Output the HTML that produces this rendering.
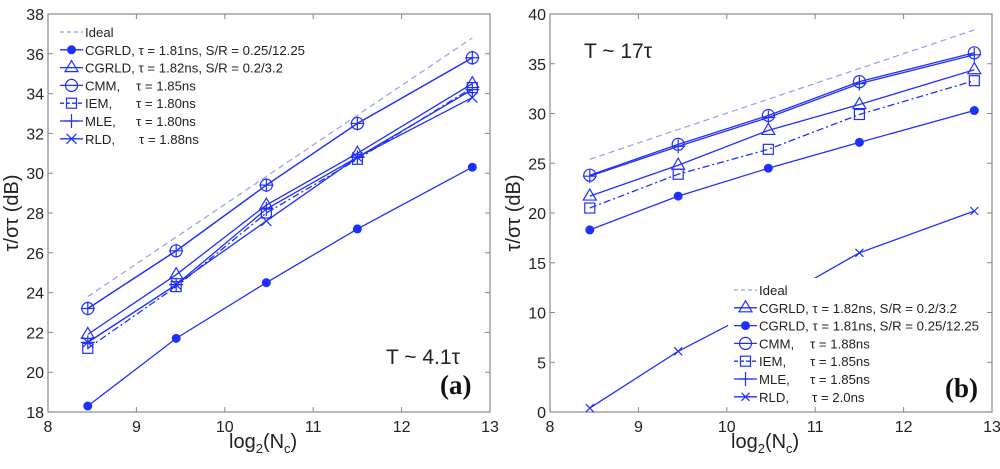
<!DOCTYPE html>
<html><head><meta charset="utf-8"><style>
body{margin:0;background:#fff;width:1000px;height:464px;overflow:hidden}
svg{font-family:"Liberation Sans",sans-serif}
</style></head><body>
<svg id="s" width="1000" height="464"></svg>
<script>
const xVals=[8.45,9.45,10.47,11.5,12.8];
const xTicks=[8,9,10,11,12,13];
const aIdeal=[23.8,36.8];
const aCgrldFilled=[18.3,21.7,24.5,27.2,30.3];
const aCgrldTri=[21.9,24.9,28.4,31.0,34.5];
const aCmm=[23.2,26.1,29.4,32.5,35.8];
const aIem=[21.2,24.3,28.0,30.7,34.3];
const aMle=[21.5,24.4,28.2,30.8,34.2];
const aRld=[21.5,24.4,27.6,30.8,33.8];
const aTicks=[18,20,22,24,26,28,30,32,34,36,38];
const bIdeal=[25.4,38.4];
const bCgrldTri=[21.7,24.8,28.3,30.9,34.4];
const bCgrldFilled=[18.3,21.7,24.5,27.1,30.3];
const bCmm=[23.8,26.9,29.8,33.2,36.1];
const bIem=[20.5,23.9,26.4,29.9,33.3];
const bMle=[23.7,26.7,29.6,33.0,35.9];
const bRld=[0.4,6.1,10.8,16.0,20.2];
const bTicks=[0,5,10,15,20,25,30,35,40];
const NS="http://www.w3.org/2000/svg";
const svg=document.getElementById('s');
const C="#1f2fff";
function el(t,a,p){const e=document.createElementNS(NS,t);for(const k in a)e.setAttribute(k,a[k]);(p||svg).appendChild(e);return e;}
function txt(x,y,s,a,p){const e=el('text',Object.assign({x:x,y:y,'font-size':14,fill:'#222'},a||{}),p);e.textContent=s;return e;}
function marker(g,type,x,y){
 if(type==='dot')el('circle',{cx:x,cy:y,r:4.5,fill:C},g);
 else if(type==='tri')el('polygon',{points:`${x},${y-7} ${x-6.5},${y+4} ${x+6.5},${y+4}`,fill:'none',stroke:C,'stroke-width':1.2},g);
 else if(type==='circ')el('circle',{cx:x,cy:y,r:6,fill:'none',stroke:C,'stroke-width':1.2},g);
 else if(type==='sq')el('rect',{x:x-5,y:y-5,width:10,height:10,fill:'none',stroke:C,'stroke-width':1.2},g);
 else if(type==='plus')el('path',{d:`M${x-7},${y}H${x+7}M${x},${y-7}V${y+7}`,stroke:C,'stroke-width':1.2},g);
 else if(type==='x')el('path',{d:`M${x-5},${y-5}L${x+5},${y+5}M${x-5},${y+5}L${x+5},${y-5}`,stroke:C,'stroke-width':1.2},g);
 else if(type==='xs')el('path',{d:`M${x-4},${y-4}L${x+4},${y+4}M${x-4},${y+4}L${x+4},${y-4}`,stroke:C,'stroke-width':1.2},g);
}
function panel(id,L,R,T,B,ymin,ymax,ticks,series,idealVals,legend,legX,legY,note,noteXY,lab,labXY){
 const g=el('g',{});  
 const sx=v=>L+(v-8)/5*(R-L), sy=v=>B-(v-ymin)/(ymax-ymin)*(B-T);
 el('rect',{x:L,y:T,width:R-L,height:B-T,fill:'#fff',stroke:'#888','stroke-width':1.2},g);
 xTicks.forEach(t=>{const x=sx(t);el('path',{d:`M${x},${B}v-5M${x},${T}v5`,stroke:'#888'},g);
  const e=txt(x,B+20,String(t),{'text-anchor':'middle','font-size':16},g);});
 ticks.forEach(t=>{const y=sy(t);el('path',{d:`M${L},${y}h5M${R},${y}h-5`,stroke:'#888'},g);
  const e=txt(L-4,y+6,String(t),{'text-anchor':'end','font-size':16},g);});
 const xl=txt((L+R)/2-40,448,'log',{'font-size':20},g);
 const t1=el('tspan',{'font-size':13,dy:5},xl);t1.textContent='2';
 const t2=el('tspan',{dy:-5},xl);t2.textContent='(N';
 const t3=el('tspan',{'font-size':13,dy:5},xl);t3.textContent='c';
 const t4=el('tspan',{dy:-5},xl);t4.textContent=')';
 const yl=txt(0,0,'τ/στ (dB)',{'font-size':20,'text-anchor':'middle',transform:`translate(${L-30},${(T+B)/2}) rotate(-90)`},g);
 
 const il=el('line',{x1:sx(xVals[0]),y1:sy(idealVals[0]),x2:sx(xVals[4]),y2:sy(idealVals[1]),stroke:'#9a9af0','stroke-dasharray':'6,4','stroke-width':1.2},g);
 
 series.forEach(s=>{const sg=el('g',{},g);
  el('polyline',{points:s.v.map((v,i)=>sx(xVals[i])+','+sy(v)).join(' '),fill:'none',stroke:C,'stroke-width':1.3,'stroke-dasharray':s.dash||''},sg);
  s.v.forEach((v,i)=>marker(sg,s.m,sx(xVals[i]),sy(v)));});
 const lg=el('g',{},g);
 if(legend.bg)el('rect',{x:legX-6,y:legY-12,width:legend.bg,height:128,fill:'#fff'},lg);
 legend.items.forEach((it,i)=>{const y=legY+i*17.8;
  const eg=el('g',{},lg);
  el('line',{x1:legX,y1:y,x2:legX+23,y2:y,stroke:it.m?C:'#9a9af0','stroke-dasharray':it.dash||'','stroke-width':1.3},eg);
  if(it.m)marker(eg,it.m,legX+11.5,y);
  const te=txt(legX+25,y+5,it.t,{'font-size':13.2},eg);
  if(it.r){const ts=el('tspan',{x:legX+(it.off||76)},te);ts.textContent=it.r;}});
 const n=txt(noteXY[0],noteXY[1],note,{'font-size':21},g);
 const lb=txt(labXY[0],labXY[1],lab,{'font-size':27,'font-weight':'bold','font-family':'Liberation Serif,serif',fill:'#111'},g);
 
}
panel('panel-a',48,490,14,412,18,38,aTicks,[
 {name:'cgrld-filled',v:aCgrldFilled,m:'dot'},
 {name:'cgrld-tri',v:aCgrldTri,m:'tri'},
 {name:'iem',v:aIem,m:'sq',dash:'7,3,2,3'},
 {name:'rld',v:aRld,m:'x'},
 {name:'mle',v:aMle,m:'plus'},
 {name:'cmm',v:aCmm,m:'circ'},
 {name:'cmm-plus',v:aCmm,m:'plus'}],aIdeal,
 {items:[{t:'Ideal',dash:'4,3'},{t:'CGRLD, τ = 1.81ns, S/R = 0.25/12.25',m:'dot'},{t:'CGRLD, τ = 1.82ns, S/R = 0.2/3.2',m:'tri'},
 {t:'CMM,',r:'τ = 1.85ns',m:'circ'},{t:'IEM,',r:'τ = 1.80ns',m:'sq',dash:'4,2'},{t:'MLE,',r:'τ = 1.80ns',m:'plus'},{t:'RLD,',r:'τ = 1.88ns',off:79,m:'x'}]},
 60,32,'T ~ 4.1τ',[386,364],'(a)',[440,394]);
panel('panel-b',550,992,14,412,0,40,bTicks,[
 {name:'rld',v:bRld,m:'xs'},
 {name:'cgrld-filled',v:bCgrldFilled,m:'dot'},
 {name:'iem',v:bIem,m:'sq',dash:'7,3,2,3'},
 {name:'cgrld-tri',v:bCgrldTri,m:'tri'},
 {name:'mle',v:bMle,m:'plus'},
 {name:'cmm',v:bCmm,m:'circ'}],bIdeal,
 {bg:252,items:[{t:'Ideal',dash:'4,3'},{t:'CGRLD, τ = 1.82ns, S/R = 0.2/3.2',m:'tri'},{t:'CGRLD, τ = 1.81ns, S/R = 0.25/12.25',m:'dot'},
 {t:'CMM,',r:'τ = 1.88ns',m:'circ'},{t:'IEM,',r:'τ = 1.85ns',m:'sq',dash:'4,2'},{t:'MLE,',r:'τ = 1.85ns',m:'plus'},{t:'RLD,',r:'τ = 2.0ns',off:78,m:'xs'}]},
 734,290,'T ~ 17τ',[584,58],'(b)',[945,397]);
</script>
</body></html>
